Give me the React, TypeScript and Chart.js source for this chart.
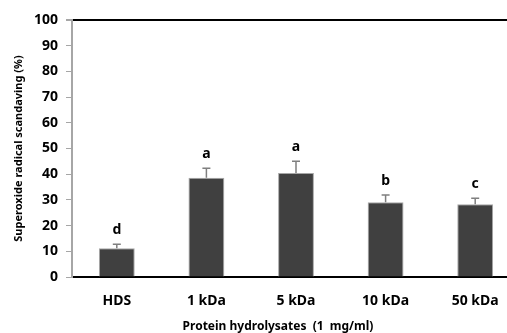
import React, { useEffect, useRef } from "react";
import { Chart, registerables } from "chart.js";

Chart.register(...registerables);

const categories = ["HDS", "1 kDa", "5 kDa", "10 kDa", "50 kDa"];
const scavenging = [11.2, 38.6, 40.5, 29.1, 28.3];
const errors = [1.5, 3.7, 4.5, 2.8, 2.3];
const letters = ["d", "a", "a", "b", "c"];
const yTicks = [0, 10, 20, 30, 40, 50, 60, 70, 80, 90, 100];
const xTitle = "Protein hydrolysates  (1  mg/ml)";

const FONT = "'Noto Sans', 'DejaVu Sans', sans-serif";

// Upper error whiskers plus significance letters above each bar
const errorLetterPlugin = {
  id: "errorLetters",
  afterDatasetsDraw(chart: any) {
    const ctx = chart.ctx;
    const meta = chart.getDatasetMeta(0);
    const y = chart.scales.y;
    ctx.save();
    meta.data.forEach((bar: any, i: number) => {
      const x = bar.x;
      const top = y.getPixelForValue(scavenging[i]);
      const errTop = y.getPixelForValue(scavenging[i] + errors[i]);
      ctx.strokeStyle = "#7f7f7f";
      ctx.lineWidth = 1.5;
      ctx.beginPath();
      ctx.moveTo(x, top);
      ctx.lineTo(x, errTop);
      ctx.moveTo(x - 4, errTop);
      ctx.lineTo(x + 4, errTop);
      ctx.stroke();
      ctx.fillStyle = "#000";
      ctx.font = `bold 14px ${FONT}`;
      ctx.textAlign = "center";
      ctx.textBaseline = "middle";
      ctx.fillText(letters[i], x, errTop - 14);
    });
    ctx.restore();
  },
};

// Axis caption under the category labels, centred on the figure's visible width
const xTitlePlugin = {
  id: "xTitle",
  afterDraw(chart: any) {
    const ctx = chart.ctx;
    const area = chart.chartArea;
    ctx.save();
    ctx.fillStyle = "#000";
    ctx.font = `bold 12px ${FONT}`;
    ctx.textAlign = "center";
    ctx.textBaseline = "middle";
    ctx.fillText(xTitle, area.left + 206, area.bottom + 50);
    ctx.restore();
  },
};

export default function App() {
  const canvasRef = useRef<HTMLCanvasElement>(null);

  useEffect(() => {
    const canvas = canvasRef.current;
    if (!canvas) return;
    const chart = new Chart(canvas, {
      type: "bar",
      data: {
        labels: categories,
        datasets: [
          {
            data: scavenging,
            backgroundColor: "#404040",
            borderColor: "#a6a6a6",
            borderWidth: 1,
            categoryPercentage: 1,
            barPercentage: 0.4,
          },
        ],
      },
      options: {
        animation: false,
        responsive: false,
        maintainAspectRatio: false,
        layout: { padding: { top: 20, right: 0, left: 0, bottom: 0 } },
        plugins: {
          legend: { display: false },
          tooltip: { enabled: false },
        },
        scales: {
          x: {
            grid: { display: false },
            border: { display: true, color: "#000", width: 2 },
            ticks: {
              color: "#000",
              font: { family: FONT, size: 14, weight: "bold" },
              padding: 8,
            },
            afterFit(scale: any) {
              scale.height = 56;
            },
          },
          y: {
            min: 0,
            max: 100,
            afterBuildTicks(scale: any) {
              scale.ticks = yTicks.map((v) => ({ value: v }));
            },
            grid: {
              drawOnChartArea: true,
              color: (c: any) => (c.tick && c.tick.value === 100 ? "#000" : "rgba(0,0,0,0)"),
              lineWidth: (c: any) => (c.tick && c.tick.value === 100 ? 2 : 1),
              tickColor: "#a6a6a6",
              tickLength: 6,
            },
            border: { display: true, color: "#a6a6a6", width: 2 },
            ticks: {
              color: "#000",
              font: { family: FONT, size: 14, weight: "bold" },
              padding: 8,
            },
            title: {
              display: true,
              text: "Superoxide radical scandaving (%)",
              color: "#000",
              font: { family: FONT, size: 11, weight: "bold" },
              padding: { top: 12, bottom: 4 },
            },
            afterFit(scale: any) {
              scale.width = 72;
            },
          },
        },
      },
      plugins: [errorLetterPlugin, xTitlePlugin],
    });
    return () => chart.destroy();
  }, []);

  return (
    <div
      style={{
        position: "fixed",
        left: 0,
        top: 0,
        width: 507,
        height: 333,
        overflow: "hidden",
        background: "#fff",
      }}
    >
      <canvas ref={canvasRef} width={520} height={333} style={{ display: "block" }} />
    </div>
  );
}
